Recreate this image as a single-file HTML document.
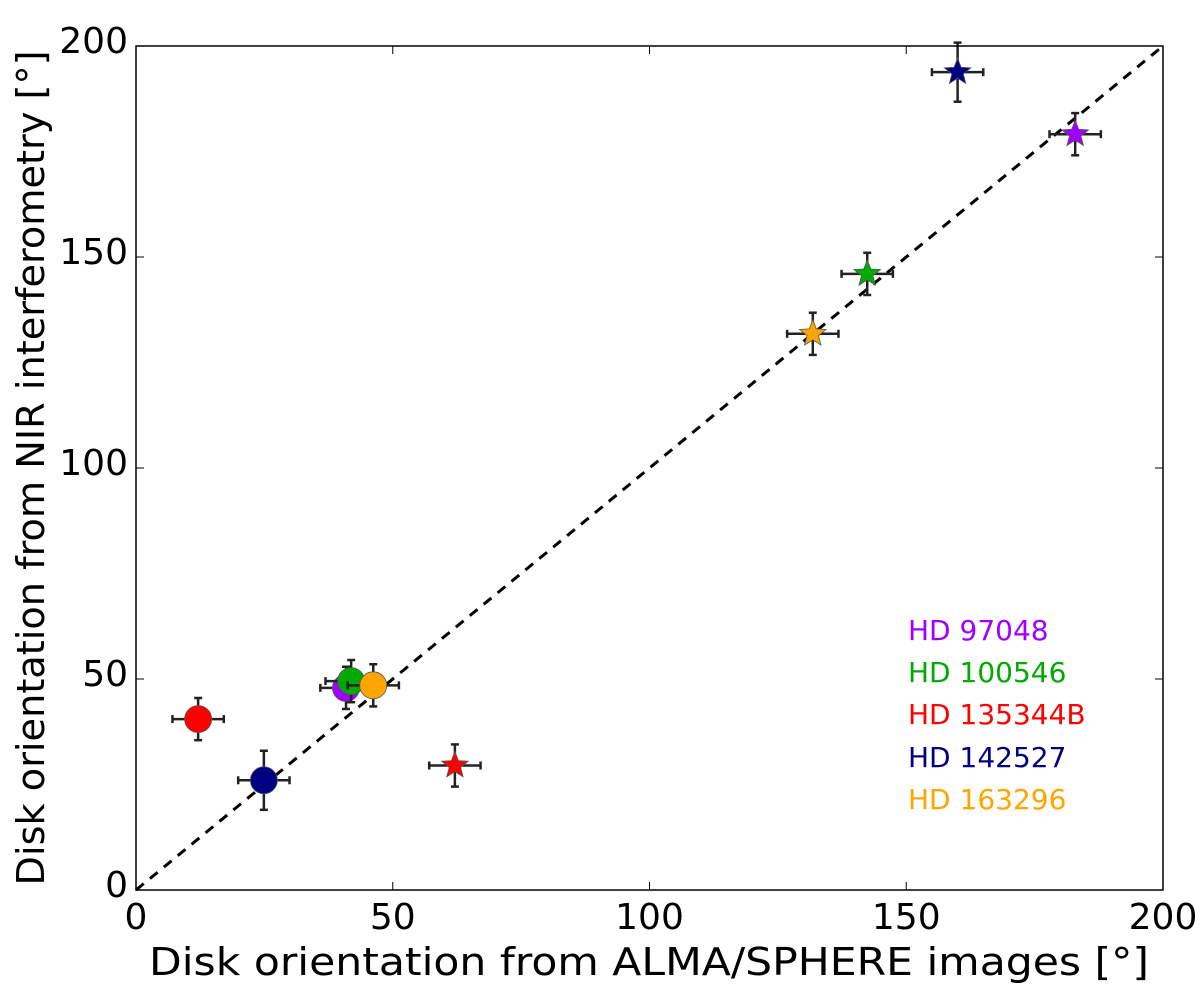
<!DOCTYPE html>
<html><head><meta charset="utf-8"><style>
html,body{margin:0;padding:0;background:#fff;}
svg{display:block;font-family:"DejaVu Sans","Liberation Sans",sans-serif;}
</style></head><body>
<svg id="chart" width="1200" height="991" viewBox="0 0 1200 991">
<g id="marks"></g>
<rect x="136" y="46" width="1027" height="844" fill="none" stroke="#000" stroke-width="1.5"/>
<g id="ticks"></g>
<text x="649" y="975" font-size="38" text-anchor="middle" textLength="1000" lengthAdjust="spacingAndGlyphs">Disk orientation from ALMA/SPHERE images [°]</text>
<text transform="translate(44,468) rotate(-90)" font-size="38" text-anchor="middle" textLength="835" lengthAdjust="spacingAndGlyphs">Disk orientation from NIR interferometry [°]</text>
<g id="legend" font-size="28">
<text x="908" y="640" fill="#a000ff">HD 97048</text>
<text x="908" y="682" fill="#00aa00">HD 100546</text>
<text x="908" y="724" fill="#ff0000">HD 135344B</text>
<text x="908" y="767" fill="#000080">HD 142527</text>
<text x="908" y="809" fill="#ffa500">HD 163296</text>
</g>
</svg>
<script>
const names = ["hd97048","hd100546","hd135344b","hd142527","hd163296"];
const colors = ["#a000ff","#00aa00","#ff0000","#000080","#ffa500"];
const circX = [40.9, 41.9, 12.1, 24.9, 46.2];
const circY = [47.9, 49.5, 40.5, 26.0, 48.5];
const circXErr = [5, 5, 5, 5, 5];
const circYErr = [5, 5, 5, 7, 5];
const starX = [182.9, 142.4, 62.1, 160.0, 131.8];
const starY = [179.1, 146.0, 29.5, 193.8, 131.8];
const starXErr = [5, 5, 5, 5, 5];
const starYErr = [5, 5, 5, 7, 5];
const ticks = [0, 50, 100, 150, 200];

const X0=136, X1=1163, Y0=890, Y1=46;
const sx = v => X0 + (v/200)*(X1-X0);
const sy = v => Y0 - (v/200)*(Y0-Y1);
const NS="http://www.w3.org/2000/svg";
const marks=document.getElementById('marks');
const tk=document.getElementById('ticks');
function mk(tag, attrs, parent){const e=document.createElementNS(NS,tag);for(const k in attrs)e.setAttribute(k,attrs[k]);parent.appendChild(e);return e;}

ticks.forEach(t=>{
  mk('line',{x1:sx(t),x2:sx(t),y1:Y0,y2:Y0-8,stroke:'#000','stroke-width':1},tk);
  mk('line',{x1:sx(t),x2:sx(t),y1:Y1,y2:Y1+8,stroke:'#000','stroke-width':1},tk);
  mk('line',{x1:X0,x2:X0+8,y1:sy(t),y2:sy(t),stroke:'#000','stroke-width':1},tk);
  mk('line',{x1:X1,x2:X1-8,y1:sy(t),y2:sy(t),stroke:'#000','stroke-width':1},tk);
  const a=mk('text',{x:sx(t),y:Y0+39,'font-size':36,'text-anchor':'middle'},tk);
  a.textContent=t;
  
  
  const b=mk('text',{x:X0-8,y:sy(t)+7,'font-size':36,'text-anchor':'end'},tk);
  b.textContent=t;
  
  
});

const d=mk('line',{x1:sx(0),y1:sy(0),x2:sx(200),y2:sy(200),stroke:'#000','stroke-width':3,'stroke-dasharray':'10,8'},marks);



function errbar(x,y,xe,ye){
  const g=mk('g',{stroke:'#222','stroke-width':2.5},marks);
  mk('line',{x1:sx(x-xe),x2:sx(x+xe),y1:sy(y),y2:sy(y)},g);
  mk('line',{x1:sx(x),x2:sx(x),y1:sy(y-ye),y2:sy(y+ye)},g);
  mk('line',{x1:sx(x-xe),x2:sx(x-xe),y1:sy(y)-4,y2:sy(y)+4},g);
  mk('line',{x1:sx(x+xe),x2:sx(x+xe),y1:sy(y)-4,y2:sy(y)+4},g);
  mk('line',{x1:sx(x)-4,x2:sx(x)+4,y1:sy(y-ye),y2:sy(y-ye)},g);
  mk('line',{x1:sx(x)-4,x2:sx(x)+4,y1:sy(y+ye),y2:sy(y+ye)},g);
  return g;
}
function starPts(cx,cy,R,r){let p=[];for(let i=0;i<10;i++){const a=-Math.PI/2+i*Math.PI/5;const rr=i%2?r:R;p.push((cx+rr*Math.cos(a)).toFixed(1)+','+(cy+rr*Math.sin(a)).toFixed(1));}return p.join(' ');}

for(let i=0;i<names.length;i++){
  const g=errbar(circX[i],circY[i],circXErr[i],circYErr[i]);
  
  
  const c=mk('circle',{cx:sx(circX[i]),cy:sy(circY[i]),r:13.5,fill:colors[i],stroke:'#555','stroke-width':0.8},marks);
  
  
}
for(let i=0;i<names.length;i++){
  const g=errbar(starX[i],starY[i],starXErr[i],starYErr[i]);
  
  
  const s=mk('polygon',{points:starPts(sx(starX[i]),sy(starY[i]),14,6),fill:colors[i],stroke:'#555','stroke-width':0.8},marks);
  
  
}
</script>
</body></html>
